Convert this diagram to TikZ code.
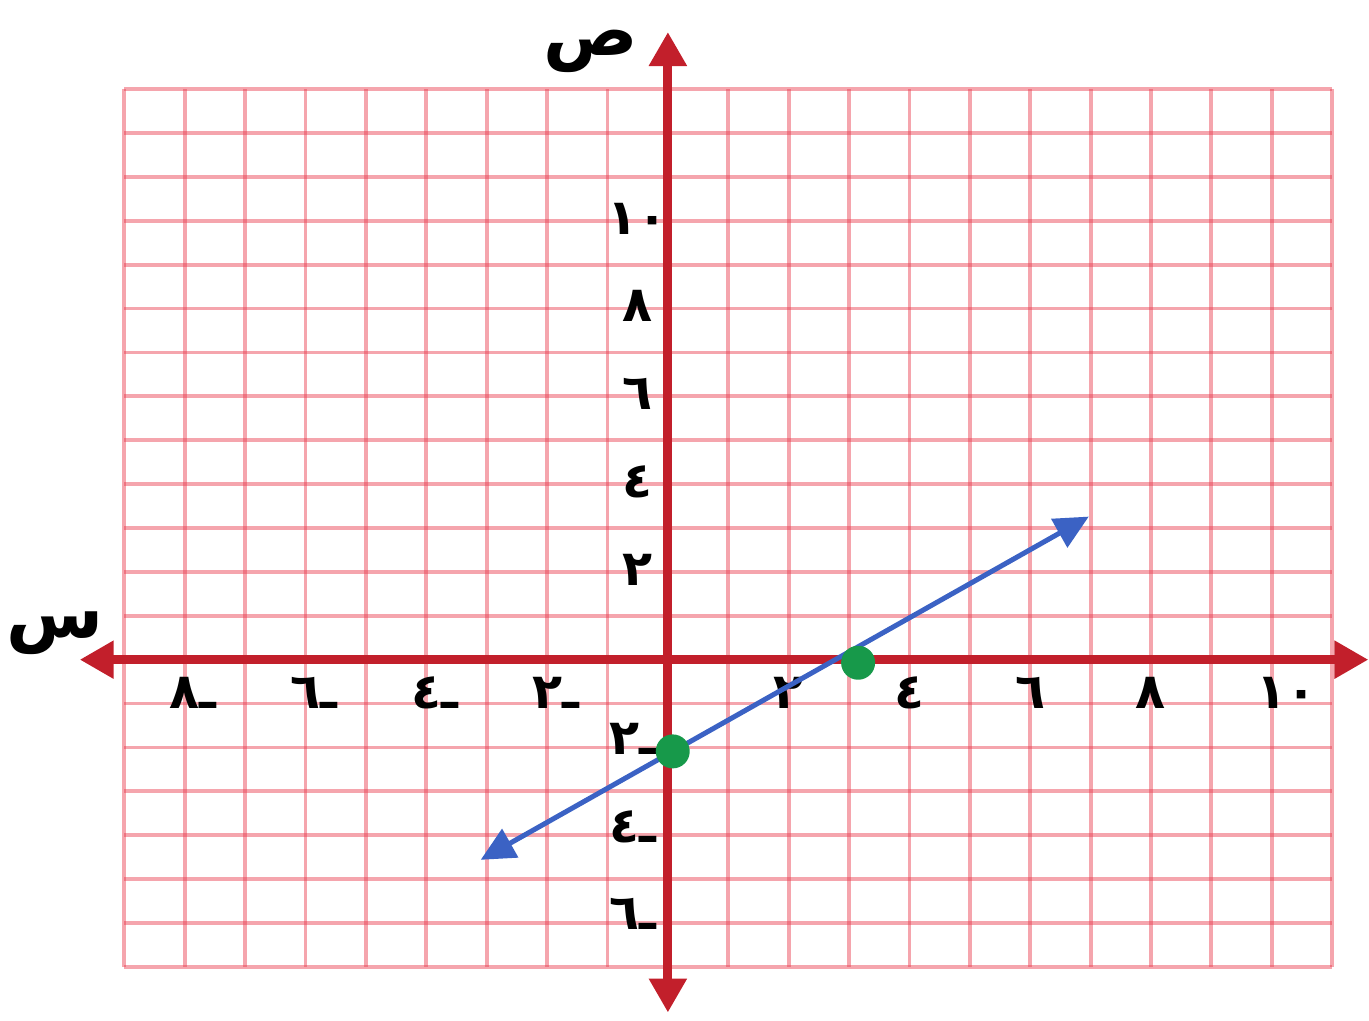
\documentclass[tikz,border=0pt]{standalone}
\usepackage{fontspec}
\newfontfamily\arabicfont[Script=Arabic]{DejaVu Sans}
\newfontfamily\digitfont{DejaVu Sans}
\TeXXeTstate=1
\usetikzlibrary{arrows.meta}
\definecolor{gridred}{HTML}{E8384A}
\definecolor{axred}{HTML}{C21F2B}
\definecolor{lnblue}{HTML}{3B62C4}
\definecolor{ptgreen}{HTML}{17994A}
\newcommand{\neglbl}[1]{#1\rlap{ـ}}
\tikzset{gridln/.style={draw=gridred, line width=0.38mm, opacity=0.45},
  axisln/.style={draw=axred, line width=0.9mm, {Triangle[length=3.4mm,width=3.6mm]}-{Triangle[length=3.4mm,width=3.6mm]}},
  lnarr/.style={draw=lnblue, line width=0.5mm, {Triangle[length=3.4mm,width=3.2mm]}-{Triangle[length=3.4mm,width=3.2mm]}},
  dotpt/.style={circle, fill=ptgreen, minimum size=3.4mm, inner sep=0pt},
  numlbl/.style={font=\digitfont\bfseries\fontsize{14pt}{16pt}\selectfont, inner sep=0pt},
  axlbl/.style={font=\arabicfont\bfseries\fontsize{20pt}{22pt}\selectfont, inner sep=0pt}}

\begin{document}
\begin{tikzpicture}[x=0.604cm,y=0.439cm]
\useasboundingbox (-11.06,-8.22) rectangle (11.61,15.03);
% ---- grid ----
\draw[gridln] \foreach \x in {-9,...,11}{(\x,-7) -- (\x,13)};
\draw[gridln] \foreach \y in {-7,...,13}{(-9,\y) -- (11,\y)};
% ---- axes ----
\coordinate (xl) at (-9.74,0); \coordinate (xr) at (11.6,0);
\coordinate (yb) at (0,-8.04); \coordinate (yt) at (0,14.3);
\draw[axisln] (xl) -- (xr);
\draw[axisln] (yb) -- (yt);
\node[axlbl] (sin) at (-10.15,0.6) {\beginR س\endR};
\node[axlbl] (sad) at (-1.27,13.85) {\beginR ص\endR};
% ---- tick labels ----
\foreach \x/\d in {2/٢,4/٤,6/٦,8/٨,10.25/١٠} \node[numlbl] (xp\d) at (\x,-0.75) {\d};
\foreach \x/\d in {2/٢,4/٤,6/٦,8/٨} \node[numlbl] (xn\d) at (-\x,-0.75) {\neglbl{\d}};
\foreach \y/\d in {2/٢,4/٤,6/٦,8/٨,10/١٠} \node[numlbl] (yp\d) at (-0.5,\y+0.05) {\d};
\foreach \y/\d in {2/٢,4/٤,6/٦} \node[numlbl] (yn\d) at (-0.72,-\y+0.2) {\neglbl{\d}};
% ---- line through the two points ----
\coordinate (la) at (-3.10,-4.56); \coordinate (lb) at (6.97,3.26);
\draw[lnarr] (la) -- (lb);
\node[dotpt] (p1) at (0.08,-2.09) {};
\node[dotpt] (p2) at (3.15,-0.07) {};
\end{tikzpicture}
\end{document}
